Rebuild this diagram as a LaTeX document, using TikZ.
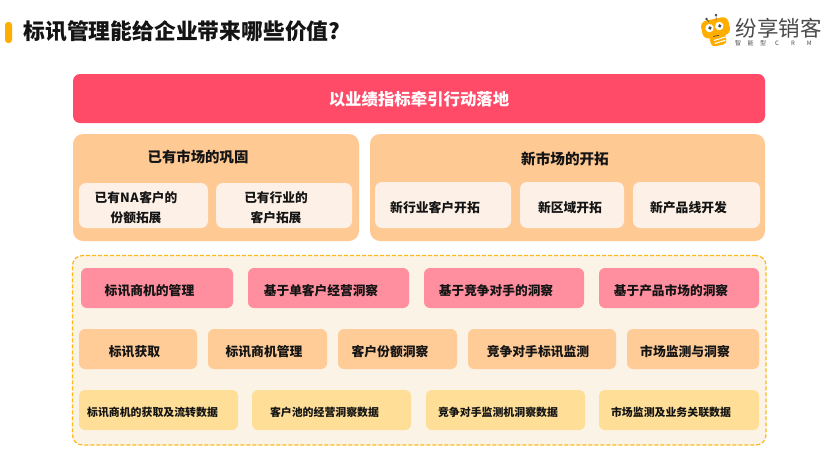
\documentclass[tikz,border=0pt]{standalone}
\usepackage{fontspec}
\setmainfont{Noto Sans CJK SC}
\usetikzlibrary{fit}
\definecolor{barred}{HTML}{FF4A68}
\definecolor{panelor}{HTML}{FFC994}
\definecolor{subbox}{HTML}{FDF1E7}
\definecolor{pinkbox}{HTML}{FF8E9F}
\definecolor{orbox}{HTML}{FFCB97}
\definecolor{yelbox}{HTML}{FFDF97}
\definecolor{dashline}{HTML}{FFB81C}
\definecolor{dashfill}{HTML}{FBF3E6}
\definecolor{beeor}{HTML}{FFAE00}
\definecolor{logotxt}{HTML}{4A4A4A}
\definecolor{inkc}{HTML}{141414}
\newcommand{\bx}[6]{\node[#1,fit={(#3,#4)(#5,#6)}] (#2) {};}
\newcommand{\tx}[6]{\node[#1,yshift=-1pt,font=\bfseries\fontsize{#5}{#5}\selectfont] (#2) at (#3,#4) {#6};}
\tikzset{
 boxbase/.style={inner sep=0pt,outer sep=0pt,draw=none},
 barbox/.style={boxbase,fill=barred,rounded corners=7pt},
 panelbox/.style={boxbase,fill=panelor,rounded corners=10pt},
 subb/.style={boxbase,fill=subbox,rounded corners=7pt},
 pinkb/.style={boxbase,fill=pinkbox,rounded corners=6pt},
 orb/.style={boxbase,fill=orbox,rounded corners=6pt},
 yelb/.style={boxbase,fill=yelbox,rounded corners=6pt},
 dashb/.style={inner sep=0pt,outer sep=0pt,draw=dashline,fill=dashfill,line width=1.2pt,dash pattern=on 4pt off 2pt,rounded corners=10pt},
 lab/.style={inner sep=0pt,text=inkc},
 wlab/.style={inner sep=0pt,text=white},
}
\begin{document}
\begin{tikzpicture}[x=1pt,y=-1pt]
\useasboundingbox (0,0) rectangle (830,464);
\fill[white] (0,0) rectangle (830,464);
% title
\bx{boxbase,fill=beeor,rounded corners=3pt}{accent}{5}{22}{12}{43}
\tx{lab}{title}{182}{30.5}{21.8}{标讯管理能给企业带来哪些价值?}
% logo
\begin{scope}[rotate around={12:(715,30)}]
\fill[beeor,rounded corners=6pt] (702,19) rectangle (730,37);
\fill[beeor,rounded corners=4pt] (708,32) rectangle (724,46);
\fill[white] (710,27) circle (4.2);
\fill[white] (720,27) circle (4.2);
\fill[logotxt] (710.5,27) circle (1.8);
\fill[logotxt] (720.5,27) circle (1.8);
\draw[logotxt,line width=.7pt] (712,36) -- (718,36);
\draw[white,line width=1pt] (712,40) -- (724,39);
\draw[white,line width=1pt] (712,43.2) -- (723,42.2);
\end{scope}
\fill[logotxt] (706.5,19) circle (1.4);
\fill[logotxt] (716,15) circle (1.4);
\draw[logotxt,line width=.5pt] (706.5,19) -- (709,22) (716,15) -- (716,20);
\node[inner sep=0pt,text=logotxt,font=\fontsize{21.5}{21.5}\selectfont] (logoa) at (778.5,28) {纷享销客};
\node[inner sep=0pt,text=logotxt,font=\fontsize{6}{6}\selectfont,anchor=west] (logob) at (735,43) {智\hspace{6.5pt}能\hspace{6.5pt}型\hspace{9pt}C\hspace{12pt}R\hspace{12pt}M};
% top bar
\bx{barbox}{bar}{73}{74}{765}{123}
\tx{wlab}{bart}{419}{98}{16.4}{以业绩指标牵引行动落地}
% panels
\bx{panelbox}{pl}{73}{134}{359}{241}
\bx{panelbox}{pr}{370}{134}{765}{241}
\tx{lab}{plt}{198}{156}{14.4}{已有市场的巩固}
\tx{lab}{prt}{565}{158}{14.6}{新市场的开拓}
\bx{subb}{s1}{79}{183}{208}{228}
\bx{subb}{s2}{216}{183}{352}{228}
\bx{subb}{s3}{375}{182}{511}{228}
\bx{subb}{s4}{520}{182}{624}{228}
\bx{subb}{s5}{633}{182}{760}{228}
\tx{lab}{s1a}{136}{197}{12.7}{已有N\hspace{.6pt}A\hspace{.6pt}客户的}
\tx{lab}{s1b}{136}{217}{12.7}{份额拓展}
\tx{lab}{s2a}{276}{197}{12.7}{已有行业的}
\tx{lab}{s2b}{276}{217}{12.7}{客户拓展}
\tx{lab}{s3t}{435}{207}{12.8}{新行业客户开拓}
\tx{lab}{s4t}{570}{207}{12.8}{新区域开拓}
\tx{lab}{s5t}{688.5}{207}{12.8}{新产品线开发}
% dashed area
\bx{dashb}{area}{72.5}{255.5}{766}{445}
\bx{pinkb}{p1}{81}{268}{233}{308}
\bx{pinkb}{p2}{248}{268}{409}{308}
\bx{pinkb}{p3}{424}{268}{584}{308}
\bx{pinkb}{p4}{599}{268}{759}{308}
\tx{lab}{p1t}{149.5}{290}{12.8}{标讯商机的管理}
\tx{lab}{p2t}{321}{290}{12.7}{基于单客户经营洞察}
\tx{lab}{p3t}{496}{290}{12.7}{基于竞争对手的洞察}
\tx{lab}{p4t}{671}{290}{12.7}{基于产品市场的洞察}
\bx{orb}{o1}{79}{329}{197}{369}
\bx{orb}{o2}{208}{329}{327}{369}
\bx{orb}{o3}{338}{329}{457}{369}
\bx{orb}{o4}{468}{329}{616}{369}
\bx{orb}{o5}{627}{329}{759}{369}
\tx{lab}{o1t}{134.5}{351}{12.8}{标讯获取}
\tx{lab}{o2t}{264}{351}{12.8}{标讯商机管理}
\tx{lab}{o3t}{390}{351}{12.8}{客户份额洞察}
\tx{lab}{o4t}{538}{351}{12.8}{竞争对手标讯监测}
\tx{lab}{o5t}{685}{351}{12.8}{市场监测与洞察}
\bx{yelb}{y1}{79}{390}{238}{430}
\bx{yelb}{y2}{252}{390}{411}{430}
\bx{yelb}{y3}{426}{390}{585}{430}
\bx{yelb}{y4}{599}{390}{759}{430}
\tx{lab}{y1t}{152.5}{411.5}{10.9}{标讯商机的获取及流转数据}
\tx{lab}{y2t}{324.5}{411.5}{10.9}{客户池的经营洞察数据}
\tx{lab}{y3t}{498}{411.5}{10.9}{竞争对手监测机洞察数据}
\tx{lab}{y4t}{671}{411.5}{10.9}{市场监测及业务关联数据}
\end{tikzpicture}
\end{document}
